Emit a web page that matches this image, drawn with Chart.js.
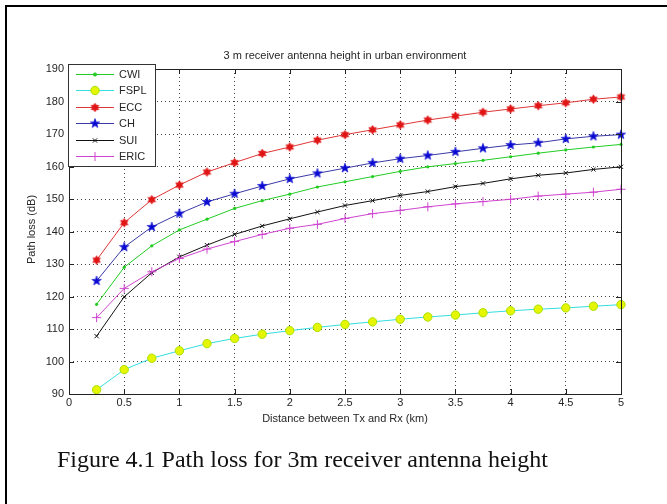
<!DOCTYPE html>
<html>
<head>
<meta charset="utf-8">
<script src="https://cdn.jsdelivr.net/npm/chart.js@4/dist/chart.umd.min.js"></script>
<style>
    html, body { margin: 0; padding: 0; background: #fff; }
    #wrap { width: 667px; height: 504px; position: relative; }
</style>
</head>
<body>
<div id="wrap"><canvas id="pathLossChart" width="667" height="504"></canvas></div>
<script>
// Distance (km)
const distances = [0.25, 0.5, 0.75, 1, 1.25, 1.5, 1.75, 2, 2.25, 2.5, 2.75, 3, 3.25, 3.5, 3.75, 4, 4.25, 4.5, 4.75, 5];

// Path loss (dB) per model
const cwi  = [117.6, 129.0, 135.6, 140.5, 143.8, 147.1, 149.5, 151.5, 153.7, 155.3, 156.9, 158.5, 159.9, 160.9, 161.9, 163.0, 164.1, 165.1, 166.0, 166.8];
const fspl = [91.3, 97.5, 101.0, 103.3, 105.5, 107.1, 108.4, 109.5, 110.5, 111.4, 112.2, 113.0, 113.7, 114.3, 115.0, 115.6, 116.1, 116.5, 117.0, 117.5];
const ecc  = [131.2, 142.7, 149.8, 154.3, 158.3, 161.2, 164.0, 166.0, 168.1, 169.8, 171.3, 172.8, 174.3, 175.5, 176.7, 177.7, 178.7, 179.6, 180.7, 181.4];
const ch   = [124.8, 135.2, 141.4, 145.5, 149.1, 151.6, 154.0, 156.2, 157.9, 159.5, 161.1, 162.4, 163.4, 164.5, 165.6, 166.6, 167.3, 168.5, 169.3, 169.8];
const sui  = [107.8, 119.9, 127.3, 132.2, 135.8, 139.1, 141.7, 143.9, 146.0, 148.0, 149.5, 151.1, 152.3, 153.8, 154.8, 156.2, 157.3, 158.0, 159.1, 159.9];
const eric = [113.5, 122.5, 127.6, 131.7, 134.6, 136.9, 139.1, 141.0, 142.2, 144.0, 145.5, 146.5, 147.6, 148.5, 149.2, 149.9, 150.9, 151.5, 152.1, 153.0];

const modelNames = ['CWI', 'FSPL', 'ECC', 'CH', 'SUI', 'ERIC'];

// Axis ranges
const xMin = 0, xMax = 5, xStep = 0.5;
const yMin = 90, yMax = 190, yStep = 10;

const chartTitle = '3 m receiver antenna height in urban environment';
const xTitle = 'Distance between Tx and Rx (km)';
const yTitle = 'Path loss (dB)';
const caption = 'Figure 4.1 Path loss for 3m receiver antenna height';

const SANS = '"Liberation Sans", Arial, sans-serif';
const TEXT = '#262626';

// Filled star markers (MATLAB hexagram / pentagram)
function starImage(points, outer, inner, color) {
    const size = Math.ceil(outer * 2 + 2);
    const c = document.createElement('canvas');
    c.width = size;
    c.height = size;
    const g = c.getContext('2d');
    g.translate(size / 2, size / 2);
    g.beginPath();
    for (let i = 0; i < points * 2; i++) {
        const r = i % 2 ? inner : outer;
        const a = -Math.PI / 2 + i * Math.PI / points;
        g.lineTo(r * Math.cos(a), r * Math.sin(a));
    }
    g.closePath();
    g.fillStyle = color;
    g.fill();
    g.strokeStyle = color;
    g.lineWidth = 0.6;
    g.stroke();
    return c;
}

const hexagram = starImage(6, 4.4, 2.6, '#e01414');
const pentagram = starImage(5, 5.0, 2.0, '#0a0ad2');

function series(i, data, line, extra) {
    return Object.assign({
        label: modelNames[i],
        data: distances.map((d, k) => ({ x: d, y: data[k] })),
        borderColor: line,
        borderWidth: 1,
        tension: 0,
        fill: false,
        clip: false,
        order: 6 - i,
    }, extra);
}

const datasets = [
    series(0, cwi, '#22cc22', { pointStyle: 'circle', pointRadius: 1.6, pointBackgroundColor: '#22cc22', pointBorderColor: '#22cc22', pointBorderWidth: 0 }),
    series(1, fspl, '#33dede', { pointStyle: 'circle', pointRadius: 4.2, pointBackgroundColor: '#e6f500', pointBorderColor: '#a8e000', pointBorderWidth: 1 }),
    series(2, ecc, '#e03535', { pointStyle: hexagram }),
    series(3, ch, '#3a3aa6', { pointStyle: pentagram }),
    series(4, sui, '#111111', { pointStyle: 'crossRot', pointRadius: 3, pointBorderColor: '#111111', pointBorderWidth: 1 }),
    series(5, eric, '#d045d0', { pointStyle: 'cross', pointRadius: 4.5, pointBorderColor: '#d045d0', pointBorderWidth: 1 }),
];

// Box, inward ticks, legend, titles, caption and frame
const decorations = {
    id: 'decorations',
    afterDatasetsDraw(chart) {
        const ctx = chart.ctx;
        const a = chart.chartArea;
        const xs = chart.scales.x;
        const ys = chart.scales.y;
        ctx.save();

        // axes box
        ctx.strokeStyle = '#222';
        ctx.lineWidth = 1;
        ctx.strokeRect(Math.round(a.left) + 0.5, Math.round(a.top) + 0.5, Math.round(a.right - a.left), Math.round(a.bottom - a.top));

        // inward tick marks on all four sides
        ctx.beginPath();
        xs.ticks.forEach(t => {
            const px = Math.round(xs.getPixelForValue(t.value)) + 0.5;
            ctx.moveTo(px, a.bottom); ctx.lineTo(px, a.bottom - 5);
            ctx.moveTo(px, a.top); ctx.lineTo(px, a.top + 5);
        });
        ys.ticks.forEach(t => {
            const py = Math.round(ys.getPixelForValue(t.value)) + 0.5;
            ctx.moveTo(a.left, py); ctx.lineTo(a.left + 5, py);
            ctx.moveTo(a.right, py); ctx.lineTo(a.right - 5, py);
        });
        ctx.stroke();

        // legend
        const lx = 68, ly = 64, lw = 87, lh = 102;
        ctx.fillStyle = '#fff';
        ctx.fillRect(lx, ly, lw, lh);
        ctx.strokeStyle = '#333';
        ctx.strokeRect(lx + 0.5, ly + 0.5, lw, lh);
        ctx.font = '11px ' + SANS;
        ctx.textBaseline = 'middle';
        ctx.textAlign = 'left';
        chart.data.datasets.forEach((ds, i) => {
            const y = Math.round(74 + i * 16.4) + 0.5;
            ctx.strokeStyle = ds.borderColor;
            ctx.lineWidth = 1;
            ctx.beginPath();
            ctx.moveTo(76, y);
            ctx.lineTo(114, y);
            ctx.stroke();
            ctx.fillStyle = ds.pointBackgroundColor || ds.borderColor;
            ctx.strokeStyle = ds.pointBorderColor || ds.borderColor;
            ctx.lineWidth = ds.pointBorderWidth !== undefined ? ds.pointBorderWidth : 1;
            Chart.helpers.drawPoint(ctx, {
                pointStyle: ds.pointStyle,
                radius: ds.pointRadius !== undefined ? ds.pointRadius : 3,
                rotation: 0,
                borderWidth: ctx.lineWidth,
            }, 95, y);
            ctx.fillStyle = TEXT;
            ctx.fillText(ds.label, 119, y + 0.5);
        });

        // plot title
        ctx.fillStyle = TEXT;
        ctx.font = '11px ' + SANS;
        ctx.textAlign = 'center';
        ctx.textBaseline = 'middle';
        ctx.fillText(chartTitle, (a.left + a.right) / 2, 56);

        // axis titles
        ctx.fillText(xTitle, (a.left + a.right) / 2, 419);
        ctx.save();
        ctx.translate(32, (a.top + a.bottom) / 2 - 2);
        ctx.rotate(-Math.PI / 2);
        ctx.fillText(yTitle, 0, 0);
        ctx.restore();

        // caption under the figure
        let size = 23;
        ctx.font = size + 'px "Liberation Serif", "Times New Roman", serif';
        size = size * 491 / ctx.measureText(caption).width;
        ctx.font = size.toFixed(2) + 'px "Liberation Serif", "Times New Roman", serif';
        ctx.fillStyle = '#111';
        ctx.textBaseline = 'alphabetic';
        ctx.textAlign = 'left';
        ctx.fillText(caption, 57, 467);

        // outer frame (left and top edges)
        ctx.fillStyle = '#000';
        ctx.fillRect(5, 5, 662, 2);
        ctx.fillRect(5, 5, 2, 499);

        ctx.restore();
    },
};

function initChart() {
    const ctx = document.getElementById('pathLossChart');
    new Chart(ctx, {
        type: 'line',
        data: { datasets: datasets },
        options: {
            responsive: false,
            animation: false,
            layout: {
                padding: { left: 0, top: 69, right: 46, bottom: 0 },
            },
            plugins: {
                legend: { display: false },
                title: { display: false },
                tooltip: { enabled: false },
            },
            scales: {
                x: {
                    type: 'linear',
                    min: xMin,
                    max: xMax,
                    ticks: {
                        stepSize: xStep,
                        padding: 2,
                        color: TEXT,
                        font: { family: SANS, size: 11 },
                        maxRotation: 0,
                        callback: (v) => String(+v.toFixed(2)),
                    },
                    grid: {
                        color: '#444',
                        lineWidth: 1,
                        drawTicks: false,
                    },
                    border: { display: false, dash: [1, 3] },
                    afterFit: (scale) => { scale.height = 110; },
                },
                y: {
                    type: 'linear',
                    min: yMin,
                    max: yMax,
                    ticks: {
                        stepSize: yStep,
                        padding: 5,
                        color: TEXT,
                        font: { family: SANS, size: 11 },
                    },
                    grid: {
                        color: '#444',
                        lineWidth: 1,
                        drawTicks: false,
                    },
                    border: { display: false, dash: [1, 3] },
                    afterFit: (scale) => { scale.width = 69; },
                },
            },
        },
        plugins: [decorations],
    });
}

document.addEventListener('DOMContentLoaded', initChart);
</script>
</body>
</html>
